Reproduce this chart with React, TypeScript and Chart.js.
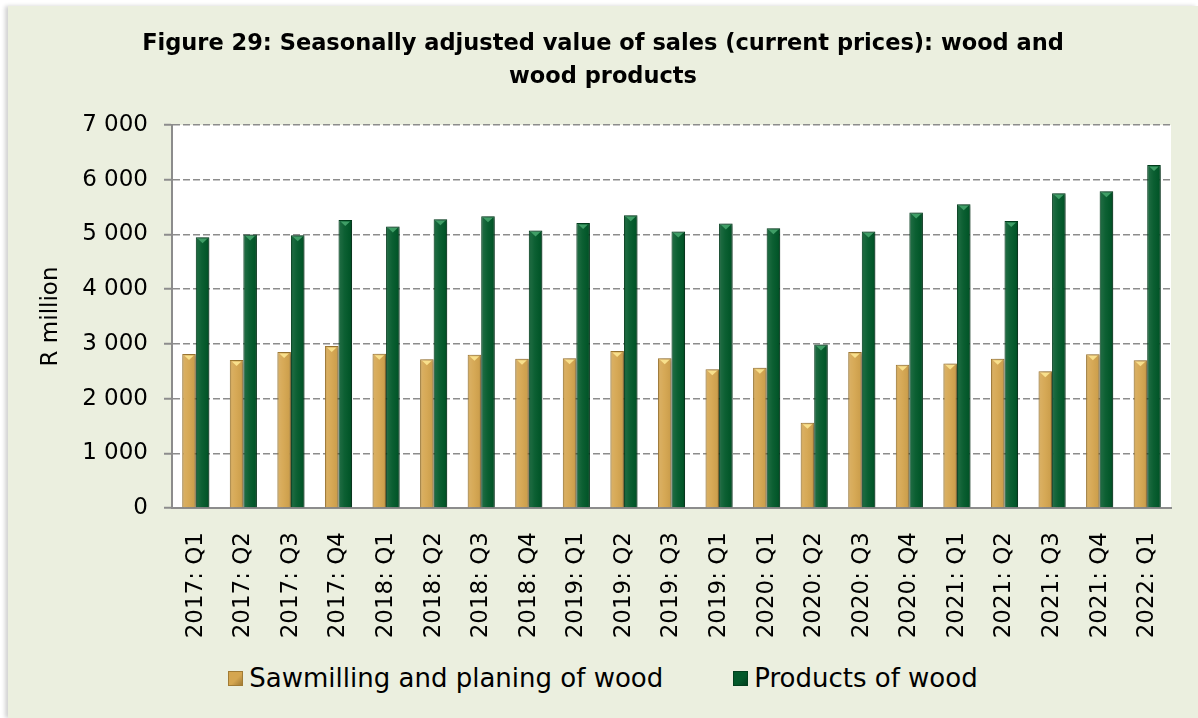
import React, { useEffect, useRef } from "react";
import { Chart, registerables } from "chart.js";

Chart.register(...registerables);

const categories = [
  "2017: Q1", "2017: Q2", "2017: Q3", "2017: Q4",
  "2018: Q1", "2018: Q2", "2018: Q3", "2018: Q4",
  "2019: Q1", "2019: Q2", "2019: Q3", "2019: Q1",
  "2020: Q1", "2020: Q2", "2020: Q3", "2020: Q4",
  "2021: Q1", "2021: Q2", "2021: Q3", "2021: Q4",
  "2022: Q1",
];

const sawmilling = [
  2815, 2706, 2852, 2962, 2821, 2718, 2803, 2730, 2736, 2870, 2736,
  2535, 2565, 1560, 2852, 2620, 2639, 2730, 2498, 2809, 2700,
];

const productsOfWood = [
  4948, 4997, 4985, 5265, 5143, 5277, 5332, 5070, 5210, 5350, 5052,
  5198, 5113, 2986, 5052, 5399, 5551, 5247, 5753, 5789, 6271,
];

const seriesNames = ["Sawmilling and planing of wood", "Products of wood"];
const titleLines = [
  "Figure 29: Seasonally adjusted value of sales (current prices): wood and",
  "wood products",
];
const yAxisTitle = "R million";

const GOLD = "#d5a650";
const GOLD_BORDER = "#a17b34";
const GOLD_TOP = "#f8e08c";
const GREEN = "#02592a";
const GREEN_BORDER = "#013f1d";
const GREEN_TOP = "#3f9e66";
const FONT = "'DejaVu Sans', sans-serif";

const fmt = (v: number) => String(v).replace(/\B(?=(\d{3})+(?!\d))/g, " ");

const barStylePlugin = {
  id: "barStyle",
  beforeDatasetsDraw(chart: any) {
    const ctx = chart.ctx;
    ctx.save();
    ctx.shadowColor = "rgba(0,0,0,0.35)";
    ctx.shadowBlur = 4;
    ctx.shadowOffsetX = 2;
    ctx.shadowOffsetY = 1;
  },
  afterDatasetsDraw(chart: any) {
    const ctx = chart.ctx;
    ctx.restore();
    ctx.save();
    chart.data.datasets.forEach((ds: any, di: number) => {
      const meta = chart.getDatasetMeta(di);
      const topCol = di === 0 ? GOLD_TOP : GREEN_TOP;
      meta.data.forEach((bar: any) => {
        const { x, y, base, width } = bar.getProps(["x", "y", "base", "width"], true);
        const l = x - width / 2;
        const r = x + width / 2;
        const g = ctx.createLinearGradient(l, 0, r, 0);
        g.addColorStop(0, "rgba(0,0,0,0.2)");
        g.addColorStop(0.15, "rgba(255,255,255,0.1)");
        g.addColorStop(0.45, "rgba(255,255,255,0.04)");
        g.addColorStop(0.85, "rgba(0,0,0,0.04)");
        g.addColorStop(1, "rgba(0,0,0,0.25)");
        ctx.fillStyle = g;
        ctx.fillRect(l + 1, y + 1, width - 2, base - y - 1);
        ctx.fillStyle = topCol;
        ctx.beginPath();
        ctx.moveTo(l + 2, y + 1.5);
        ctx.lineTo(r - 2, y + 1.5);
        ctx.lineTo(x, y + 6);
        ctx.closePath();
        ctx.fill();
      });
    });
    ctx.restore();
  },
};

export default function App() {
  const canvasRef = useRef<HTMLCanvasElement | null>(null);

  useEffect(() => {
    document.body.style.margin = "0";
    const canvas = canvasRef.current;
    if (!canvas) return;
    const chart = new Chart(canvas, {
      type: "bar",
      data: {
        labels: categories,
        datasets: [
          {
            label: seriesNames[0],
            data: sawmilling,
            backgroundColor: GOLD,
            borderColor: GOLD_BORDER,
            borderWidth: 1,
            barPercentage: 1,
            categoryPercentage: 0.57,
          },
          {
            label: seriesNames[1],
            data: productsOfWood,
            backgroundColor: GREEN,
            borderColor: GREEN_BORDER,
            borderWidth: 1,
            barPercentage: 1,
            categoryPercentage: 0.57,
          },
        ],
      },
      options: {
        responsive: false,
        animation: false,
        maintainAspectRatio: false,
        layout: { padding: { left: 27, right: 27, top: 0, bottom: 0 } },
        plugins: {
          legend: { display: false },
          tooltip: { enabled: false },
          title: {
            display: true,
            text: titleLines,
            color: "#000",
            font: { family: FONT, size: 22.5, weight: "bold", lineHeight: "33px" },
            padding: { top: 22, bottom: 31 },
          },
        },
        scales: {
          x: {
            grid: { display: false },
            border: { display: true, color: "#8c8c8c", width: 2 },
            ticks: {
              autoSkip: false,
              maxRotation: 90,
              minRotation: 90,
              padding: 16,
              color: "#000",
              font: { family: FONT, size: 23 },
            },
            afterFit(scale: any) {
              scale.height = 138;
            },
          },
          y: {
            min: 0,
            max: 7000,
            ticks: {
              stepSize: 1000,
              padding: 16,
              color: "#000",
              font: { family: FONT, size: 23 },
              callback: (v: any) => fmt(Number(v)),
            },
            grid: {
              color: "#8c8c8c",
              lineWidth: 1.5,
              tickLength: 8,
              tickBorderDash: [],
              tickColor: "#8c8c8c",
              tickWidth: 2,
            },
            border: { display: true, color: "#8c8c8c", width: 2, dash: [7, 3] },
            title: {
              display: true,
              text: yAxisTitle,
              color: "#000",
              font: { family: FONT, size: 23 },
              padding: { top: 2, bottom: 0 },
            },
            afterFit(scale: any) {
              scale.width = 137;
            },
          },
        },
      },
      plugins: [
        barStylePlugin,
        {
          id: "plotBg",
          beforeDraw(c: any) {
            const { ctx, chartArea } = c;
            ctx.save();
            ctx.fillStyle = "#ffffff";
            ctx.fillRect(chartArea.left, chartArea.top, chartArea.right - chartArea.left, chartArea.bottom - chartArea.top);
            ctx.restore();
          },
        },
      ],
    } as any);
    return () => chart.destroy();
  }, []);

  const legendItem = (label: string, color: string, border: string) => (
    <div style={{ display: "flex", alignItems: "center" }}>
      <span
        style={{
          display: "inline-block",
          width: 15,
          height: 15,
          background: `linear-gradient(135deg, ${color} 0%, ${color} 55%, ${border} 100%)`,
          border: `1px solid ${border}`,
          boxSizing: "border-box",
          marginRight: 6,
        }}
      />
      <span>{label}</span>
    </div>
  );

  return (
    <div style={{ position: "relative", width: 1198, height: 718, background: "#ffffff", overflow: "hidden" }}>
      <div
        style={{
          position: "absolute",
          left: 8,
          top: 6,
          width: 1190,
          height: 712,
          background: "#ebefdf",
          boxShadow: "-3px 0 4px rgba(0,0,0,0.18)",
        }}
      >
        <canvas ref={canvasRef} width={1190} height={640} style={{ position: "absolute", left: 0, top: 0 }} />
        <div
          style={{
            position: "absolute",
            left: 0,
            top: 654,
            width: 1190,
            height: 36,
            display: "flex",
            justifyContent: "center",
            alignItems: "center",
            gap: 70,
            fontFamily: FONT,
            fontSize: 26,
            color: "#000",
          }}
        >
          {legendItem(seriesNames[0], GOLD, GOLD_BORDER)}
          {legendItem(seriesNames[1], GREEN, GREEN_BORDER)}
        </div>
      </div>
    </div>
  );
}
